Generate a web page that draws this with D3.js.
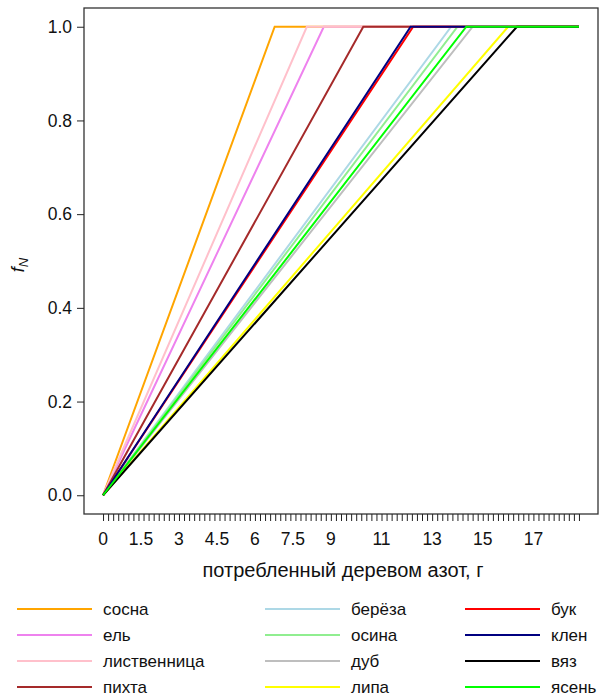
<!DOCTYPE html>
<html>
<head>
<meta charset="utf-8">
<script src="https://cdn.jsdelivr.net/npm/d3@7"></script>
<style>
  body { margin: 0; background: #fff; }
  svg { display: block; font-family: "Liberation Sans", Arial, sans-serif; }
</style>
</head>
<body>
<div id="chart"></div>
<script>
// species, in legend (and drawing) order
const species = ["сосна", "ель", "лиственница", "пихта", "берёза", "осина", "дуб", "липа", "бук", "клен", "вяз", "ясень"];
const colors = ["#FFA500", "#EE82EE", "#FFC0CB", "#A52A2A", "#ADD8E6", "#90EE90", "#BEBEBE", "#FFFF00", "#FF0000", "#000080", "#000000", "#00FF00"];
// nitrogen amount (g) at which f_N reaches 1
const saturation = [6.78, 8.72, 8.05, 10.28, 13.75, 14.0, 14.6, 16.0, 12.25, 12.15, 16.35, 14.35];
const xMax = 18.8;
const xLabels = [0, 1.5, 3, 4.5, 6, 7.5, 9, 11, 13, 15, 17];
const yTicks = [0, 0.2, 0.4, 0.6, 0.8, 1.0];

const W = 606, H = 698;
const box = { left: 84, right: 598, top: 8, bottom: 514 };

const svg = d3.select("#chart").append("svg")
    .attr("width", W).attr("height", H);

// R-style 4% padding around the data range
const x = d3.scaleLinear().domain([-0.04 * xMax, xMax * 1.04]).range([box.left, box.right]);
const y = d3.scaleLinear().domain([-0.04, 1.04]).range([box.bottom, box.top]);

// lines
const line = d3.line().x(d => x(d[0])).y(d => y(d[1]));
species.forEach((s, i) => {
    const pts = [[0, 0], [saturation[i], 1], [xMax, 1]];
    svg.append("path")
        .attr("d", line(pts))
        .attr("fill", "none")
        .attr("stroke", colors[i])
        .attr("stroke-width", 2);
});

// box
svg.append("rect")
    .attr("x", box.left).attr("y", box.top)
    .attr("width", box.right - box.left).attr("height", box.bottom - box.top)
    .attr("fill", "none").attr("stroke", "#333").attr("stroke-width", 1.3);

// x axis: minor ticks every 0.2, labels at selected values
const xAxis = svg.append("g").attr("transform", `translate(0,${box.bottom})`);
xAxis.call(d3.axisBottom(x).tickValues(d3.range(0, xMax + 0.001, 0.2)).tickSize(7).tickFormat(""))
    .call(g => g.select(".domain").remove())
    .call(g => g.selectAll("line").attr("stroke", "#222"));
xAxis.selectAll(".xlab").data(xLabels).join("text")
    .attr("class", "xlab")
    .attr("x", d => x(d)).attr("y", 31)
    .attr("text-anchor", "middle")
    .attr("font-size", 17.5)
    .attr("fill", "#111")
    .text(d => d);

svg.append("text")
    .attr("x", (box.left + box.right) / 2 + 2).attr("y", 577)
    .attr("text-anchor", "middle")
    .attr("font-size", 20)
    .attr("fill", "#111")
    .text("потребленный деревом азот, г");

// y axis
const yAxis = svg.append("g").attr("transform", `translate(${box.left},0)`);
yAxis.call(d3.axisLeft(y).tickValues(yTicks).tickSize(7).tickPadding(5).tickFormat(d3.format(".1f")))
    .call(g => g.select(".domain").remove())
    .call(g => g.selectAll("line").attr("stroke", "#222"))
    .call(g => g.selectAll("text").attr("font-size", 17.5).attr("fill", "#111")
        .attr("font-family", "Liberation Sans, Arial, sans-serif"));

const ylab = svg.append("text")
    .attr("transform", `translate(24,${(box.top + box.bottom) / 2 + 4}) rotate(-90)`)
    .attr("text-anchor", "middle")
    .attr("font-size", 18)
    .attr("fill", "#111");
ylab.append("tspan").attr("font-style", "italic").text("f");
ylab.append("tspan").attr("font-style", "italic").attr("font-size", 13).attr("dy", 4).text("N");

// legend: 3 columns of 4 rows
const colX = [17, 265, 465];
const rowY = [609, 635, 661, 687];
const legend = svg.append("g");
species.forEach((s, i) => {
    const c = Math.floor(i / 4), r = i % 4;
    const row = legend.append("g").attr("transform", `translate(${colX[c]},${rowY[r]})`);
    row.append("line")
        .attr("x1", 0).attr("x2", 75)
        .attr("stroke", colors[i]).attr("stroke-width", 2);
    row.append("text")
        .attr("x", 86).attr("y", 6)
        .attr("font-size", 17)
        .attr("fill", "#111")
        .text(s);
});
</script>
</body>
</html>
